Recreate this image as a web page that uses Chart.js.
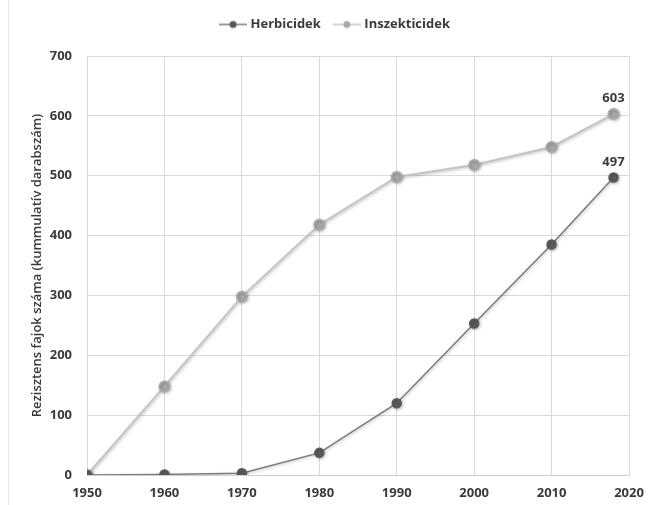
<!DOCTYPE html>
<html>
<head>
<meta charset="utf-8">
<script src="https://cdn.jsdelivr.net/npm/chart.js@4.4.1/dist/chart.umd.min.js"></script>
<style>
  html, body { margin: 0; padding: 0; background: #ffffff; }
  #wrap { position: relative; width: 648px; height: 505px; }
  #wrap::before { content: ""; position: absolute; left: 8px; top: 0; bottom: 0; width: 1px; background: #e6e6e6; }
  canvas { display: block; }
</style>
</head>
<body>
<div id="wrap"><canvas id="c" width="648" height="505"></canvas></div>
<script>
// Cumulative number of resistant species per year
const years = [1950, 1960, 1970, 1980, 1990, 2000, 2010, 2018];
const herbicidek = [0, 1, 3, 37, 120, 253, 385, 497];
const inszekticidek = [0, 148, 298, 418, 498, 518, 548, 603];
const seriesNames = ['Herbicidek', 'Inszekticidek'];
const yTitle = 'Rezisztens fajok száma (kummulatív darabszám)';

const FONT = '"Open Sans", "Liberation Sans", sans-serif';
const TEXT = '#3a3a3a';
const HERB_LINE = '#7a7a7a', HERB_PT = '#5a5a5a';
const INS_LINE = '#c4c4c4', INS_PT = '#a9a9a9';

// Legend marker: short line with a dot in the middle
function legendMarker(lineColor, dotColor) {
  const cv = document.createElement('canvas');
  cv.width = 28; cv.height = 10;
  const g = cv.getContext('2d');
  g.strokeStyle = lineColor; g.lineWidth = 1.5;
  g.beginPath(); g.moveTo(0, 5); g.lineTo(28, 5); g.stroke();
  g.fillStyle = dotColor;
  g.beginPath(); g.arc(14, 5, 3.5, 0, Math.PI * 2); g.fill();
  return cv;
}

const toXY = arr => arr.map((v, i) => ({ x: years[i], y: v }));

// Value label above the last point of each series
const lastValueLabels = {
  id: 'lastValueLabels',
  afterDatasetsDraw(chart) {
    const ctx = chart.ctx;
    ctx.save();
    ctx.font = 'bold 13px ' + FONT;
    ctx.fillStyle = TEXT;
    ctx.textAlign = 'center';
    ctx.textBaseline = 'bottom';
    chart.data.datasets.forEach((ds, i) => {
      const meta = chart.getDatasetMeta(i);
      const last = meta.data[meta.data.length - 1];
      const val = ds.data[ds.data.length - 1].y;
      ctx.fillText(String(val), last.x, last.y - 9);
    });
    ctx.restore();
  }
};

// Soft shadow under lines and markers
const softShadow = {
  id: 'softShadow',
  beforeDatasetDraw(chart) {
    const ctx = chart.ctx;
    ctx.save();
    ctx.shadowColor = 'rgba(0,0,0,0.25)';
    ctx.shadowBlur = 3;
    ctx.shadowOffsetX = 1;
    ctx.shadowOffsetY = 1;
  },
  afterDatasetDraw(chart) { chart.ctx.restore(); }
};

// Extra room under the legend, and a small rightward nudge
const legendTweaks = {
  id: 'legendTweaks',
  beforeInit(chart) {
    const lg = chart.legend;
    if (lg) {
      const fit = lg.fit.bind(lg);
      lg.fit = function () { fit(); this.height += 15; };
    }
  },
  beforeDraw(chart) {
    const lg = chart.legend;
    if (lg && !lg._shifted) { lg.left += 7; lg.right += 7; lg._shifted = true; }
  }
};

new Chart(document.getElementById('c'), {
  type: 'line',
  data: {
    datasets: [
      {
        label: seriesNames[0],
        data: toXY(herbicidek),
        borderColor: HERB_LINE,
        backgroundColor: HERB_PT,
        pointBackgroundColor: HERB_PT,
        pointBorderColor: HERB_PT,
        borderWidth: 1.5,
        pointRadius: 4.5,
        pointStyle: 'circle',
        tension: 0
      },
      {
        label: seriesNames[1],
        data: toXY(inszekticidek),
        borderColor: INS_LINE,
        backgroundColor: INS_PT,
        pointBackgroundColor: INS_PT,
        pointBorderColor: INS_PT,
        borderWidth: 2,
        pointRadius: 5,
        pointStyle: 'circle',
        tension: 0
      }
    ]
  },
  options: {
    responsive: false,
    animation: false,
    devicePixelRatio: 1,
    layout: { padding: { left: 29, right: 19, top: 3, bottom: 0 } },
    plugins: {
      legend: {
        position: 'top',
        labels: {
          usePointStyle: true,
          pointStyleWidth: 22,
          font: { family: FONT, size: 13, weight: 'bold' },
          color: TEXT,
          padding: 15,
          generateLabels(chart) {
            return chart.data.datasets.map((ds, i) => ({
              text: ds.label,
              pointStyle: legendMarker(ds.borderColor, ds.pointBackgroundColor),
              fillStyle: ds.pointBackgroundColor,
              strokeStyle: ds.borderColor,
              lineWidth: 0,
              fontColor: TEXT,
              datasetIndex: i,
              hidden: false
            }));
          }
        }
      },
      tooltip: { enabled: false }
    },
    scales: {
      x: {
        type: 'linear',
        min: 1950,
        max: 2020,
        afterFit(s) { s.height = 30; s.paddingLeft = 0; s.paddingRight = 0; },
        ticks: {
          stepSize: 10,
          callback: v => String(v),
          font: { family: FONT, size: 13, weight: 'bold' },
          color: TEXT,
          padding: 10,
          maxRotation: 0
        },
        grid: { color: '#d9d9d9', lineWidth: 1, drawTicks: false },
        border: { color: '#d0d0d0' }
      },
      y: {
        min: 0,
        max: 700,
        afterFit(s) { s.width = 58; },
        ticks: {
          stepSize: 100,
          font: { family: FONT, size: 13, weight: 'bold' },
          color: TEXT,
          padding: 15
        },
        grid: { color: '#d9d9d9', lineWidth: 1, drawTicks: false },
        border: { display: false },
        title: {
          display: true,
          text: yTitle,
          font: { family: FONT, size: 13, weight: '600' },
          color: TEXT,
          padding: { top: 0, bottom: 0 }
        }
      }
    }
  },
  plugins: [softShadow, lastValueLabels, legendTweaks]
});
</script>
</body>
</html>
